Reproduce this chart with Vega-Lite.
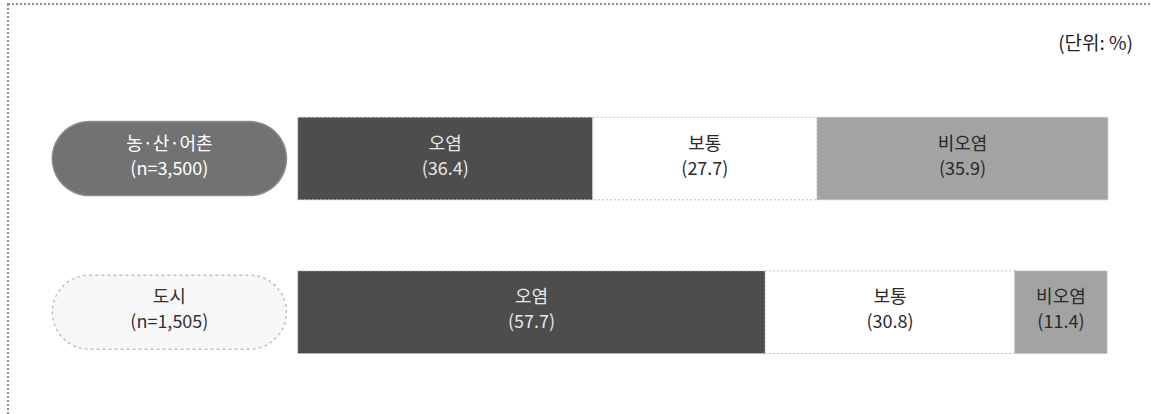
{
  "$schema": "https://vega.github.io/schema/vega-lite/v6.json",
  "width": 1151,
  "height": 414,
  "autosize": {"type": "fit", "contains": "padding"},
  "padding": {"left": 8, "top": 4, "right": -6, "bottom": -6},
  "background": "white",
  "config": {
    "view": {"stroke": "#8f8f8f", "strokeWidth": 2, "strokeDash": [2, 2]},
    "text": {"font": "Noto Sans CJK KR"},
    "title": {"font": "Noto Sans CJK KR"}
  },
  "title": {
    "text": "(단위: %)",
    "anchor": "end",
    "frame": "group",
    "fontSize": 19,
    "fontWeight": "normal",
    "color": "#222222",
    "offset": 0,
    "dy": 50,
    "dx": -24
  },
  "datasets": {
    "seg": [
      {"group": "농·산·어촌", "category": "오염", "k": 1, "value": 36.4},
      {"group": "농·산·어촌", "category": "보통", "k": 2, "value": 27.7},
      {"group": "농·산·어촌", "category": "비오염", "k": 3, "value": 35.9},
      {"group": "도시", "category": "오염", "k": 1, "value": 57.7},
      {"group": "도시", "category": "보통", "k": 2, "value": 30.8},
      {"group": "도시", "category": "비오염", "k": 3, "value": 11.4}
    ],
    "groups": [
      {"group": "농·산·어촌", "n": "(n=3,500)"},
      {"group": "도시", "n": "(n=1,505)"}
    ]
  },
  "encoding": {
    "y": {
      "field": "group",
      "type": "nominal",
      "axis": null,
      "sort": ["농·산·어촌", "도시"],
      "scale": {"domain": ["농·산·어촌", "도시"], "paddingInner": 0.4623, "paddingOuter": 0.5853, "align": 0.63}
    }
  },
  "layer": [
    {
      "data": {"name": "groups"},
      "mark": {"type": "bar", "height": 74, "cornerRadius": 37, "strokeWidth": 1.5},
      "encoding": {
        "x": {"datum": -30.3, "type": "quantitative", "scale": {"domain": [-35.77, 106.06], "nice": false, "zero": false}, "axis": null},
        "x2": {"datum": -1.4},
        "fill": {"condition": {"test": "datum.group === '농·산·어촌'", "value": "#727272"}, "value": "#f7f7f7"},
        "stroke": {"condition": {"test": "datum.group === '농·산·어촌'", "value": "#8c8c8c"}, "value": "#c2c2c2"},
        "strokeDash": {"condition": {"test": "datum.group === '농·산·어촌'", "value": [1, 0]}, "value": [3, 3]}
      }
    },
    {
      "data": {"name": "groups"},
      "mark": {"type": "text", "fontSize": 18, "dy": -14, "align": "center", "baseline": "middle"},
      "encoding": {
        "x": {"datum": -15.85, "type": "quantitative"},
        "text": {"field": "group"},
        "color": {"condition": {"test": "datum.group === '농·산·어촌'", "value": "#ffffff"}, "value": "#333333"}
      }
    },
    {
      "data": {"name": "groups"},
      "mark": {"type": "text", "fontSize": 18, "dy": 11, "align": "center", "baseline": "middle"},
      "encoding": {
        "x": {"datum": -15.85, "type": "quantitative"},
        "text": {"field": "n"},
        "color": {"condition": {"test": "datum.group === '농·산·어촌'", "value": "#ffffff"}, "value": "#333333"}
      }
    },
    {
      "data": {"name": "seg"},
      "transform": [
        {"stack": "value", "groupby": ["group"], "sort": [{"field": "k"}], "as": ["x0", "x1"]}
      ],
      "mark": {"type": "bar", "stroke": "#bdbdbd", "strokeWidth": 1, "strokeDash": [2, 2]},
      "encoding": {
        "x": {"field": "x0", "type": "quantitative"},
        "x2": {"field": "x1"},
        "color": {
          "field": "category",
          "type": "nominal",
          "scale": {"domain": ["오염", "보통", "비오염"], "range": ["#4d4d4d", "#ffffff", "#a3a3a3"]},
          "legend": null
        }
      }
    },
    {
      "data": {"name": "seg"},
      "transform": [
        {"stack": "value", "groupby": ["group"], "sort": [{"field": "k"}], "as": ["x0", "x1"]},
        {"calculate": "(datum.x0 + datum.x1) / 2", "as": "mid"}
      ],
      "mark": {"type": "text", "fontSize": 18, "dy": -14, "align": "center", "baseline": "middle"},
      "encoding": {
        "x": {"field": "mid", "type": "quantitative"},
        "text": {"field": "category"},
        "color": {"condition": {"test": "datum.category === '오염'", "value": "#e6e6e6"}, "value": "#2a2a2a"}
      }
    },
    {
      "data": {"name": "seg"},
      "transform": [
        {"stack": "value", "groupby": ["group"], "sort": [{"field": "k"}], "as": ["x0", "x1"]},
        {"calculate": "(datum.x0 + datum.x1) / 2", "as": "mid"},
        {"calculate": "'(' + format(datum.value, '.1f') + ')'", "as": "label"}
      ],
      "mark": {"type": "text", "fontSize": 18, "dy": 11, "align": "center", "baseline": "middle"},
      "encoding": {
        "x": {"field": "mid", "type": "quantitative"},
        "text": {"field": "label"},
        "color": {"condition": {"test": "datum.category === '오염'", "value": "#e6e6e6"}, "value": "#2a2a2a"}
      }
    }
  ]
}
